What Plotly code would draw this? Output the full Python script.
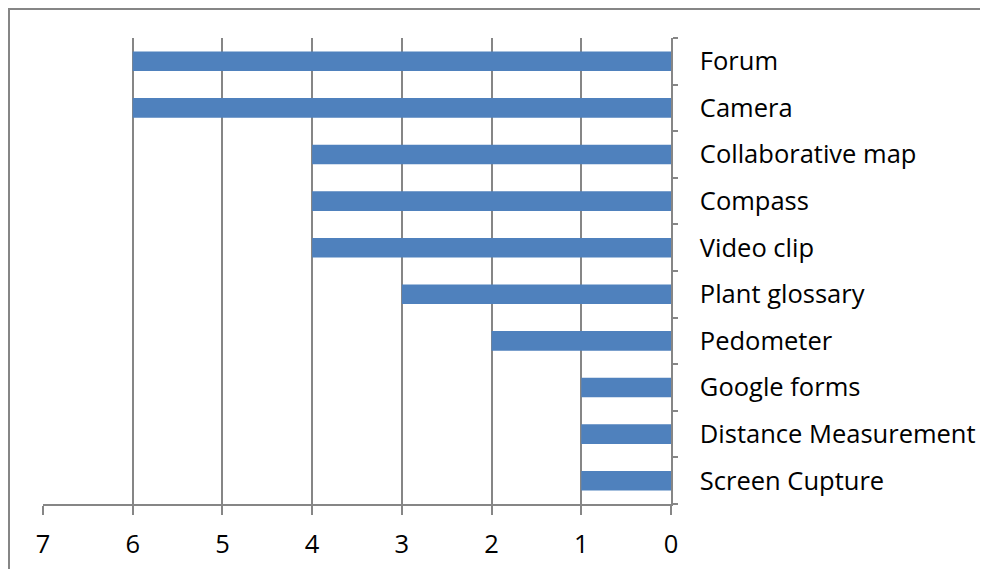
import plotly.graph_objects as go

categories = ["Screen Cupture", "Distance Measurement", "Google forms", "Pedometer",
              "Plant glossary", "Video clip", "Compass", "Collaborative map",
              "Camera", "Forum"]
counts = [1, 1, 1, 2, 3, 4, 4, 4, 6, 6]
x_ticks = [0, 1, 2, 3, 4, 5, 6, 7]

axis_grey = "#868686"
font = dict(family="Open Sans, Liberation Sans, sans-serif", size=25.5, color="black")

fig = go.Figure(go.Bar(
    x=counts,
    y=categories,
    orientation="h",
    marker=dict(color="#4F81BD", line=dict(width=0)),
    width=0.42,
))

# page body adds an 8px offset, so the figure is sized to fit the window after it
plot_w = 980 - 35 - 317
plot_h = 561 - 30 - 65
fig.update_layout(
    width=980, height=561,
    margin=dict(l=35, r=317, t=30, b=65, autoexpand=False),
    plot_bgcolor="white",
    paper_bgcolor="white",
    font=font,
    showlegend=False,
    xaxis=dict(
        range=[7, 0],
        tickvals=x_ticks,
        automargin=False,
        showgrid=True, gridcolor=axis_grey, gridwidth=1.5,
        zeroline=False,
        showline=True, linecolor=axis_grey, linewidth=1.5,
        ticks="outside", ticklen=9, tickcolor=axis_grey, tickwidth=1.5,
        ticklabelstandoff=8,
    ),
    yaxis=dict(
        side="right",
        type="category",
        automargin=False,
        showgrid=False,
        zeroline=False,
        showline=True, linecolor=axis_grey, linewidth=1.5,
        ticks="outside", ticklen=5, tickcolor=axis_grey, tickwidth=1.5,
        tickson="boundaries",
        ticklabelstandoff=22,
    ),
    shapes=[dict(
        type="rect", xref="paper", yref="paper",
        x0=-34 / plot_w, x1=(979 - 35) / plot_w,
        y0=-0.3, y1=1 + 29 / plot_h,
        line=dict(color=axis_grey, width=2),
        layer="below",
    )],
)

fig.write_html("out.html")
